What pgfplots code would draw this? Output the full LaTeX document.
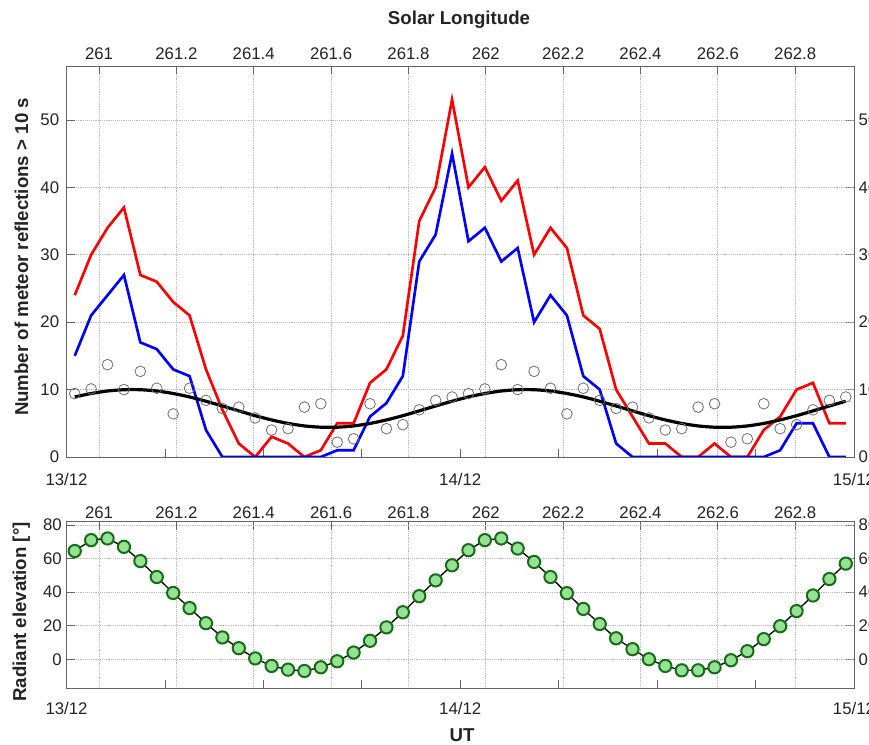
\documentclass[border=0pt]{standalone}
\usepackage{fontspec}
\setmainfont{Liberation Sans}
\usepackage{pgfplots}
\usepackage{pgfplotstable}
\pgfplotsset{compat=1.18}

\definecolor{mgreen}{RGB}{150,225,150}
\definecolor{dgreen}{RGB}{20,110,20}
\definecolor{gridc}{RGB}{185,185,185}
\definecolor{axc}{RGB}{100,100,100}
\definecolor{txt}{RGB}{35,35,35}
\definecolor{circc}{RGB}{110,110,110}

\pgfplotstableread{
t red blue circ blk
0.5 24 15 9.4 8.91
1.5 30 21 10.1 9.42
2.5 34 24 13.7 9.79
3.5 37 27 10.0 9.98
4.5 27 17 12.7 9.98
5.5 26 16 10.2 9.79
6.5 23 13 6.4 9.42
7.5 21 12 10.2 8.91
8.5 13 4 8.4 8.27
9.5 7 0 7.2 7.57
10.5 2 0 7.4 6.84
11.5 0 0 5.8 6.13
12.5 3 0 4.0 5.50
13.5 2 0 4.2 4.98
14.5 0 0 7.4 4.61
15.5 1 0 7.9 4.42
16.5 5 1 2.2 4.42
17.5 5 1 2.7 4.61
18.5 11 6 7.9 4.98
19.5 13 8 4.2 5.50
20.5 18 12 4.8 6.13
21.5 35 29 7.0 6.84
22.5 40 33 8.4 7.57
23.5 53 45 8.9 8.27
24.5 40 32 9.4 8.91
25.5 43 34 10.1 9.42
26.5 38 29 13.7 9.79
27.5 41 31 10.0 9.98
28.5 30 20 12.7 9.98
29.5 34 24 10.2 9.79
30.5 31 21 6.4 9.42
31.5 21 12 10.2 8.91
32.5 19 10 8.4 8.27
33.5 10 2 7.2 7.57
34.5 6 0 7.4 6.84
35.5 2 0 5.8 6.13
36.5 2 0 4.0 5.50
37.5 0 0 4.2 4.98
38.5 0 0 7.4 4.61
39.5 2 0 7.9 4.42
40.5 0 0 2.2 4.42
41.5 0 0 2.7 4.61
42.5 4 0 7.9 4.98
43.5 6 1 4.2 5.50
44.5 10 5 4.8 6.13
45.5 11 5 7.0 6.84
46.5 5 0 8.4 7.57
47.5 5 0 8.9 8.27
}\meteor

\pgfplotstableread{
t elev
0.5 64.5
1.5 71
2.5 72
3.5 67
4.5 58.5
5.5 49
6.5 39.5
7.5 30.5
8.5 21.5
9.5 13
10.5 6.6
11.5 0.5
12.5 -4
13.5 -6.2
14.5 -7
15.5 -4.8
16.5 -1.2
17.5 4
18.5 11
19.5 19
20.5 28
21.5 37.6
22.5 47
23.5 56
24.5 65
25.5 71
26.5 72
27.5 66
28.5 58
29.5 49
30.5 39.4
31.5 30
32.5 21
33.5 12.5
34.5 6
35.5 0
36.5 -4
37.5 -6.6
38.5 -6.6
39.5 -4.8
40.5 -0.6
41.5 4.8
42.5 12
43.5 19.7
44.5 28.7
45.5 38
46.5 47.8
47.5 57
}\elev

\pgfplotsset{
  base/.style={
    scale only axis, width=590.6pt, anchor=south west,
    axis line style={axc, line width=0.6pt},
    tick style={axc, line width=0.6pt},
    major tick length=6pt,
    every tick label/.append style={font=\fontsize{12.6}{14}\selectfont, text=txt},
    /pgf/number format/assume math mode=true,
    grid style={gridc, densely dotted, line width=0.6pt},
  },
  solar/.style={
    xmin=260.916, xmax=262.952,
    xtick={261,261.2,261.4,261.6,261.8,262,262.2,262.4,262.6,262.8},
    xticklabels={261,261.2,261.4,261.6,261.8,262,262.2,262.4,262.6,262.8},
    xtick pos=top, xticklabel pos=top, xmajorgrids,
    ytick pos=right, yticklabel pos=right,
  },
  timeax/.style={
    xmin=0, xmax=48,
    xtick={0,6,...,48}, xticklabels={13/12,,,,14/12,,,,15/12},
    xtick pos=bottom, xticklabel pos=bottom,
    ytick pos=left, yticklabel pos=left, ymajorgrids,
  },
}

\begin{document}
\begin{tikzpicture}
% ---------- top panel ----------
\begin{axis}[base, solar, at={(49.9pt,215.25pt)}, height=293.25pt,
  ymin=0, ymax=58, ytick={0,10,...,50},
  xticklabel style={yshift=1.5pt}]
\end{axis}
\begin{axis}[base, timeax, at={(49.9pt,215.25pt)}, height=293.25pt,
  ymin=0, ymax=58, ytick={0,10,...,50},
  xticklabel style={yshift=-9pt}, yticklabel style={xshift=-2pt}]
\addplot[only marks, mark=o, mark size=4pt, mark options={draw=circc, line width=0.6pt}] table[x=t,y=circ]{\meteor};
\addplot[red, line width=2pt] table[x=t,y=red]{\meteor};
\addplot[blue, line width=2pt] table[x=t,y=blue]{\meteor};
\addplot[black, line width=2.4pt, smooth] table[x=t,y=blk]{\meteor};
\end{axis}
% ---------- bottom panel ----------
\begin{axis}[base, solar, at={(49.9pt,41.8pt)}, height=124.95pt,
  ymin=-17.3, ymax=82, ytick={0,20,...,80},
  xticklabel style={yshift=-1.5pt}]
\end{axis}
\begin{axis}[base, timeax, at={(49.9pt,41.8pt)}, height=124.95pt,
  ymin=-17.3, ymax=82, ytick={0,20,...,80},
  xticklabel style={yshift=-7pt}]
\addplot[black, line width=1pt, mark=*, mark size=4.6pt,
  mark options={fill=mgreen, draw=dgreen, line width=1.5pt}] table[x=t,y=elev]{\elev};
\end{axis}
% ---------- labels ----------
\node[font=\bfseries\fontsize{14}{16}\selectfont, text=txt] at (344.25pt,543.4pt) {Solar Longitude};
\node[font=\bfseries\fontsize{14}{16}\selectfont, text=txt, rotate=90] at (16pt,365.25pt) {Number of meteor reflections > 10 s};
\node[font=\bfseries\fontsize{14}{16}\selectfont, text=txt, rotate=90] at (16pt,99pt) {Radiant elevation [°]};
\node[font=\bfseries\fontsize{14}{16}\selectfont, text=txt] at (346.5pt,6.75pt) {UT};
\pgfresetboundingbox
\path[use as bounding box] (0,0) rectangle (651.75pt,558pt);
\end{tikzpicture}
\end{document}
